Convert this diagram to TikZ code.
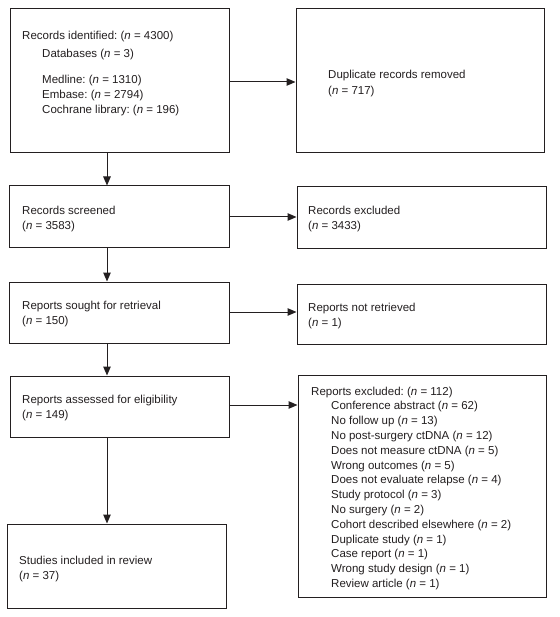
\documentclass[tikz,border=0pt]{standalone}
\usepackage{fontspec}
\setmainfont{Liberation Sans}
\usetikzlibrary{arrows.meta}
\definecolor{ink}{HTML}{231F20}
\newcommand{\nn}{\textit{n}}
\frenchspacing
\tikzset{
  box/.style={draw=ink, line width=1pt, rectangle, inner sep=0pt, fill=white},
  txt/.style={anchor=north west, inner sep=0pt, align=left, text=ink,
    font=\fontsize{11.5}{15}\selectfont\frenchspacing},
  lst/.style={txt, font=\fontsize{11.5}{14.8}\selectfont\frenchspacing},
  arr/.style={draw=ink, line width=1pt, -{Triangle[length=9pt,width=7.5pt]}},
}
\begin{document}
\begin{tikzpicture}[x=1pt,y=-1pt]
\useasboundingbox (0,0) rectangle (559,617);
% boxes
\node[box, minimum width=219pt, minimum height=144pt] (b1)  at (119.5,81) {};
\node[box, minimum width=248pt, minimum height=144pt] (dup) at (420,81) {};
\node[box, minimum width=220pt, minimum height=61pt]  (scr) at (119,216.5) {};
\node[box, minimum width=249pt, minimum height=61pt]  (exc) at (421.5,217.5) {};
\node[box, minimum width=220pt, minimum height=61pt]  (srt) at (119,312.5) {};
\node[box, minimum width=249pt, minimum height=60pt]  (nr)  at (421.5,314) {};
\node[box, minimum width=219pt, minimum height=61pt]  (ass) at (119.5,406.5) {};
\node[box, minimum width=248pt, minimum height=222pt] (rx)  at (422,486) {};
\node[box, minimum width=219pt, minimum height=84pt]  (inc) at (116.5,566) {};
% texts
\node[txt] (t1) at (22,30.5) {Records identified: (\nn{} = 4300)\\[3pt]
  \hspace*{20pt}Databases (\nn{} = 3)\\[11.5pt]
  \hspace*{20pt}Medline: (\nn{} = 1310)\\
  \hspace*{20pt}Embase: (\nn{} = 2794)\\
  \hspace*{20pt}Cochrane library: (\nn{} = 196)};
\node[txt] (t2) at (328,69.5) {Duplicate records removed\\[1pt](\nn{} = 717)};
\node[txt] (t3) at (22,205.5) {Records screened\\(\nn{} = 3583)};
\node[txt] (t4) at (308,205.5) {Records excluded\\(\nn{} = 3433)};
\node[txt] (t5) at (22,300.5) {Reports sought for retrieval\\(\nn{} = 150)};
\node[txt] (t6) at (308,302.5) {Reports not retrieved\\(\nn{} = 1)};
\node[txt] (t7) at (22,394.5) {Reports assessed for eligibility\\(\nn{} = 149)};
\node[txt] (t8) at (19,555.5) {Studies included in review\\(\nn{} = 37)};
\node[lst] (t9) at (311,386.5) {Reports excluded: (\nn{} = 112)\\
  \hspace*{20pt}Conference abstract (\nn{} = 62)\\
  \hspace*{20pt}No follow up (\nn{} = 13)\\
  \hspace*{20pt}No post-surgery ctDNA (\nn{} = 12)\\
  \hspace*{20pt}Does not measure ctDNA (\nn{} = 5)\\
  \hspace*{20pt}Wrong outcomes (\nn{} = 5)\\
  \hspace*{20pt}Does not evaluate relapse (\nn{} = 4)\\
  \hspace*{20pt}Study protocol (\nn{} = 3)\\
  \hspace*{20pt}No surgery (\nn{} = 2)\\
  \hspace*{20pt}Cohort described elsewhere (\nn{} = 2)\\
  \hspace*{20pt}Duplicate study (\nn{} = 1)\\
  \hspace*{20pt}Case report (\nn{} = 1)\\
  \hspace*{20pt}Wrong study design (\nn{} = 1)\\
  \hspace*{20pt}Review article (\nn{} = 1)};
% connectors
\coordinate (ax) at (107,0);
\draw[arr] (b1.south -| ax) -- (scr.north -| ax);
\draw[arr] (scr.south -| ax) -- (srt.north -| ax);
\draw[arr] (srt.south -| ax) -- (ass.north -| ax);
\draw[arr] (ass.south -| ax) -- (inc.north -| ax);
\draw[arr] ([yshift=-1pt]b1.east) -- ([yshift=-1pt]b1.east -| dup.west);
\draw[arr] ([yshift=-0.5pt]scr.east) -- ([yshift=-0.5pt]scr.east -| exc.west);
\draw[arr] ([yshift=0.5pt]srt.east) -- ([yshift=0.5pt]srt.east -| nr.west);
\draw[arr] ([yshift=1.5pt]ass.east) -- ([yshift=1.5pt]ass.east -| rx.west);
\end{tikzpicture}
\end{document}
